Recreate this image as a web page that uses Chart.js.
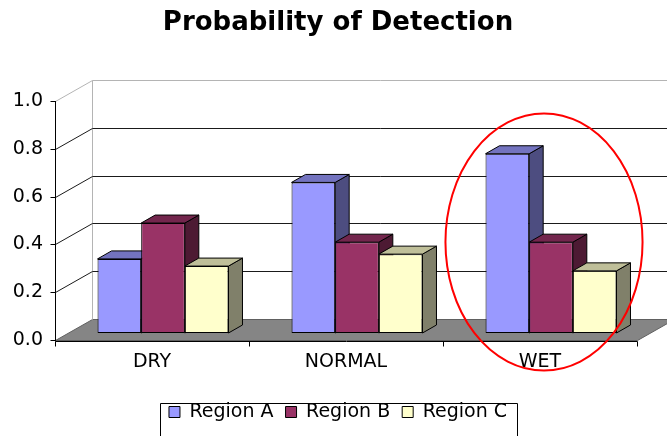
<!DOCTYPE html>
<html>
<head>
<meta charset="utf-8">
<script src="https://cdn.jsdelivr.net/npm/chart.js@4.4.1/dist/chart.umd.min.js"></script>
<style>
  html, body { margin: 0; padding: 0; background: #fff; }
</style>
</head>
<body>
<canvas id="detection" width="667" height="436"></canvas>
<script>
const conditions = ['DRY', 'NORMAL', 'WET'];
const regionA = [0.31, 0.63, 0.75];
const regionB = [0.46, 0.38, 0.38];
const regionC = [0.28, 0.33, 0.26];
const yTicks = [0, 0.2, 0.4, 0.6, 0.8, 1.0];

const frontColors = ['#9999ff', '#993366', '#ffffcc'];
const topColors = ['#7373bf', '#73264d', '#bfbf99'];
const sideColors = ['#4d4d80', '#4d1a33', '#80806a'];

// 3d look: depth of the walls, where the bars sit, how deep a bar is
const WALL_DX = 37, WALL_DY = -21;
const BAR_DX = 11, BAR_DY = -7;
const DEPTH_DX = 14, DEPTH_DY = -8;

const line = (ctx, pts, color) => {
    ctx.strokeStyle = color;
    ctx.beginPath();
    pts.forEach((p, i) => i ? ctx.lineTo(p[0], p[1]) : ctx.moveTo(p[0], p[1]));
    ctx.stroke();
};

const face = (ctx, pts, color) => {
    ctx.fillStyle = color;
    ctx.beginPath();
    pts.forEach((p, i) => i ? ctx.lineTo(p[0], p[1]) : ctx.moveTo(p[0], p[1]));
    ctx.closePath();
    ctx.fill();
    ctx.stroke();
};

const drawWalls = (chart) => {
    const {ctx, chartArea: a, scales: {y}} = chart;
    const L = Math.round(a.left) + 0.5, R = Math.round(a.right) + 0.5;
    const B = Math.round(a.bottom) + 0.5;
    ctx.lineWidth = 1;

    // floor
    ctx.strokeStyle = '#606060';
    face(ctx, [[L, B], [R, B], [R + WALL_DX, B + WALL_DY], [L + WALL_DX, B + WALL_DY]], '#858585');

    // back wall edge
    line(ctx, [[L + WALL_DX, Math.round(a.top) + 0.5 + WALL_DY], [L + WALL_DX, B + WALL_DY]], '#b4b4b4');

    // gridlines on side and back wall
    yTicks.forEach(v => {
        if (v === 0) return;
        const py = Math.round(y.getPixelForValue(v)) + 0.5;
        line(ctx, [[L, py], [L + WALL_DX, py + WALL_DY], [R + WALL_DX, py + WALL_DY]], v === 1 ? '#b4b4b4' : '#1a1a1a');
    });
};

const drawFrontAxes = (chart) => {
    const {ctx, chartArea: a, scales: {y}} = chart;
    const L = Math.round(a.left) + 0.5, R = Math.round(a.right) + 0.5;
    const B = Math.round(a.bottom) + 1.5;
    ctx.lineWidth = 1;
    line(ctx, [[L, Math.round(a.top)], [L, B]], '#000');
    yTicks.forEach(v => {
        const py = Math.round(y.getPixelForValue(v)) + 0.5;
        line(ctx, [[L - 5, py], [L, py]], '#000');
    });
    line(ctx, [[L, B], [R, B]], '#000');
    const catW = (a.right - a.left) / conditions.length;
    for (let i = 0; i <= conditions.length; i++) {
        const px = Math.round(a.left + i * catW) + 0.5;
        line(ctx, [[px, B], [px, B + 5]], '#000');
    }
};

const drawBars = (chart) => {
    const ctx = chart.ctx;
    ctx.save();
    ctx.translate(BAR_DX, BAR_DY);
    ctx.lineWidth = 1;
    chart.data.datasets.forEach((ds, i) => {
        const meta = chart.getDatasetMeta(i);
        if (meta.hidden) return;
        meta.data.forEach(bar => {
            bar.draw(ctx, chart.chartArea);
            const {x, y, base, width} = bar.getProps(['x', 'y', 'base', 'width'], true);
            const l = x - width / 2, r = x + width / 2;
            ctx.strokeStyle = '#000';
            face(ctx, [[r, y], [r + DEPTH_DX, y + DEPTH_DY], [r + DEPTH_DX, base + DEPTH_DY], [r, base]], sideColors[i]);
            face(ctx, [[l, y], [l + DEPTH_DX, y + DEPTH_DY], [r + DEPTH_DX, y + DEPTH_DY], [r, y]], topColors[i]);
        });
    });
    ctx.restore();
};

const columns3d = {
    id: 'columns3d',
    afterLayout(chart) {
        // the original was cropped on the right, so title and legend sit right of the plot centre
        chart.titleBlock.left += 39;
        chart.legend.left += 39;
    },
    beforeDatasetsDraw(chart) {
        chart.ctx.save();
        drawWalls(chart);
        chart.ctx.restore();
        drawBars(chart);
        // bars are already drawn above, in series order
        return false;
    },
    afterDraw(chart) {
        const {ctx, chartArea: a, scales: {x, y}} = chart;
        ctx.save();
        drawFrontAxes(chart);
        // frame round the legend, runs off the bottom like the original
        const boxes = chart.legend.legendHitBoxes;
        if (boxes.length) {
            const first = boxes[0], last = boxes[boxes.length - 1];
            const left = Math.round(first.left - 9) + 0.5;
            const right = Math.round(last.left + last.width + 10) + 0.5;
            const top = Math.round(first.top) + 0.5;
            ctx.strokeStyle = '#000';
            ctx.lineWidth = 1;
            ctx.beginPath();
            ctx.moveTo(left, chart.height + 5);
            ctx.lineTo(left, top);
            ctx.lineTo(right, top);
            ctx.lineTo(right, chart.height + 5);
            ctx.stroke();
        }
        // red ring drawn round the WET group
        const catW = (a.right - a.left) / conditions.length;
        const cx = x.getPixelForValue(2) + 4;
        const cy = y.getPixelForValue(0.41);
        ctx.strokeStyle = '#ff0000';
        ctx.lineWidth = 2;
        ctx.beginPath();
        ctx.ellipse(cx, cy, catW * 0.508, (a.bottom - a.top) * 0.538, 0, 0, Math.PI * 2);
        ctx.stroke();
        ctx.restore();
    }
};

new Chart('detection', {
    type: 'bar',
    data: {
        labels: conditions,
        datasets: [
            { label: 'Region A', data: regionA, backgroundColor: frontColors[0] },
            { label: 'Region B', data: regionB, backgroundColor: frontColors[1] },
            { label: 'Region C', data: regionC, backgroundColor: frontColors[2] }
        ].map(ds => ({ ...ds, borderColor: '#000', borderWidth: 1, borderSkipped: false }))
    },
    options: {
        responsive: false,
        animation: false,
        devicePixelRatio: 1,
        categoryPercentage: 0.675,
        barPercentage: 1.0,
        layout: {
            padding: { left: 0, right: 30, top: 0, bottom: 4.5 }
        },
        plugins: {
            title: {
                display: true,
                text: 'Probability of Detection',
                color: '#000',
                font: { family: 'DejaVu Sans', size: 26, weight: 'bold' },
                padding: { top: 8, bottom: 61.8 }
            },
            legend: {
                position: 'bottom',
                labels: {
                    color: '#000',
                    font: { family: 'DejaVu Sans', size: 19 },
                    boxWidth: 11,
                    boxHeight: 11,
                    padding: 12
                }
            },
            tooltip: { enabled: false }
        },
        scales: {
            x: {
                grid: { display: false, drawTicks: false },
                border: { display: false },
                ticks: {
                    color: '#000',
                    font: { family: 'DejaVu Sans', size: 19 },
                    padding: 11,
                    maxRotation: 0
                },
                afterFit: (scale) => { scale.height = 50.5; }
            },
            y: {
                min: 0,
                max: 1,
                grid: { display: false, drawTicks: false },
                border: { display: false },
                ticks: {
                    stepSize: 0.2,
                    color: '#000',
                    font: { family: 'DejaVu Sans', size: 19 },
                    padding: 12,
                    callback: (v) => v.toFixed(1)
                },
                afterFit: (scale) => { scale.width = 55; }
            }
        }
    },
    plugins: [columns3d]
});
</script>
</body>
</html>
